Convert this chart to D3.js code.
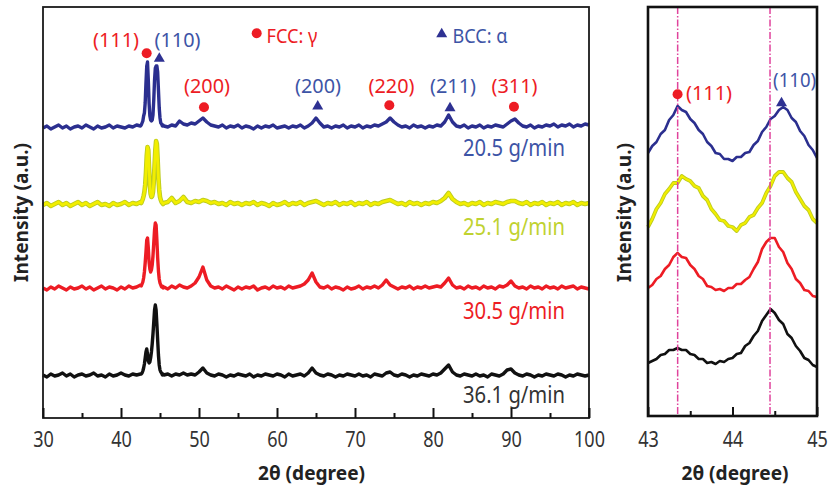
<!DOCTYPE html>
<html>
<head>
<meta charset="utf-8">
<script src="https://cdn.jsdelivr.net/npm/d3@7"></script>
<style>
  html, body { margin: 0; padding: 0; background: #fff; }
  svg { display: block; }
  text { font-family: "Noto Sans", "Open Sans", sans-serif; }
</style>
</head>
<body>
<svg id="chart" width="832" height="491"></svg>
<script>
// ---------------- DATA ----------------
// Left panel: full XRD scans, 2θ sample positions (degrees)
const twoTheta = [
  ...d3.range(30, 42.75, 0.5),      // 26 samples
  ...d3.range(42.6, 45.45, 0.1),    // 29 samples (main peaks)
  ...d3.range(45.5, 100.25, 0.5)    // 110 samples
];
// Intensities (a.u., stacked)
const intensity205 = [
  290,292,289,291,293,290,292,289,291,292,290,293,291,289,292,290,291,293,290,292,291,290,292,291,293,292,
  293,295,297,302,305,315,335,352,356,338,315,302,298,297,298,303,318,338,350,352,352,346,328,310,300,295,294,292,293,
  292,291,293,292,297,294,293,295,294,297,
  300,296,293,292,291,293,290,292,291,293,
  290,292,291,289,292,290,292,291,293,290,
  291,292,290,292,291,293,290,292,295,300,
  295,291,292,290,292,291,293,290,292,291,
  293,290,292,291,293,292,294,296,300,296,
  293,291,292,290,293,291,292,290,292,291,
  293,292,296,303,296,292,291,293,290,292,
  291,293,290,292,291,293,292,291,294,297,
  299,295,292,291,293,290,292,291,293,292,
  294,291,293,292,294,291,293,292,294,293
];
const intensity251 = [
  213,215,212,214,216,213,215,212,214,216,213,215,212,214,216,213,214,212,215,213,214,216,213,215,214,216,
  215,217,219,222,226,233,245,262,271,268,250,232,224,221,222,226,236,252,268,277,274,258,240,228,221,218,216,215,214,
  215,216,220,215,217,221,216,215,217,216,
  218,217,215,216,214,215,213,216,214,215,
  213,215,214,216,213,215,214,212,215,213,
  214,216,213,215,214,216,213,215,216,217,
  215,213,215,214,216,213,215,214,216,213,
  215,214,216,213,215,214,216,217,218,216,
  214,215,213,216,214,215,213,215,214,216,
  215,217,220,225,219,216,214,215,213,215,
  214,216,213,215,214,216,215,214,216,217,
  217,215,214,216,213,215,214,216,213,215,
  214,216,213,215,214,216,213,215,214,215
];
const intensity305 = [
  130,128,131,129,132,130,128,131,129,130,132,129,131,128,130,132,129,131,130,128,131,129,132,130,131,133,
  132,134,136,140,146,155,166,178,180,170,156,149,146,148,153,162,175,188,195,193,178,160,147,139,135,133,131,132,130,
  131,129,132,130,133,131,130,132,135,141,
  151,138,132,130,131,129,132,130,128,131,
  129,131,130,132,128,130,131,129,132,130,
  131,129,132,130,131,132,134,138,145,136,
  131,130,132,129,131,130,128,131,129,130,
  132,129,131,130,132,130,133,138,133,131,
  129,131,130,132,129,131,130,132,130,131,
  132,131,135,140,133,130,131,129,132,130,
  131,129,132,130,131,129,132,131,133,137,
  132,130,131,129,132,130,131,129,132,130,
  131,129,132,130,131,132,129,131,130,129
];
const intensity361 = [
  43,41,44,42,43,45,42,44,41,43,44,42,43,45,42,43,41,44,42,43,45,43,42,44,43,44,
  44,45,47,50,54,60,66,69,64,57,55,56,60,66,74,84,96,108,113,108,94,78,63,53,48,46,45,43,44,
  43,44,42,44,43,45,43,44,43,46,
  50,45,43,42,44,43,41,43,42,44,
  43,42,44,41,43,42,44,43,42,44,
  43,41,44,42,43,44,42,45,50,45,
  43,42,44,43,41,43,42,44,43,42,
  44,42,43,41,44,43,42,45,46,43,
  42,44,43,41,43,42,44,43,42,44,
  43,45,49,53,46,43,42,44,43,42,
  44,42,43,41,44,43,42,44,48,49,
  45,43,42,44,43,41,43,42,44,43,
  42,44,43,41,43,42,44,43,42,43
];

// Right panel: zoom 43–45°, step 0.05°
const twoThetaZoom = d3.range(43, 45.025, 0.05); // 41 samples
const zoom205 = [263,270,274,282,286,296,301,310,306,304,297,293,286,282,274,270,263,262,257,257,255,259,259,263,264,271,275,284,289,297,300,306,309,306,298,294,285,280,271,266,258];
const zoom251 = [189,197,207,213,222,227,233,233,240,237,235,230,228,220,216,207,202,196,195,190,189,185,191,193,199,201,208,213,223,230,240,244,244,238,234,224,217,210,206,197,193];
const zoom305 = [128,131,137,140,147,151,159,163,159,158,151,147,140,137,130,129,126,127,125,128,128,132,132,136,139,147,154,167,174,178,178,169,164,153,147,137,133,126,125,120,119];
const zoom361 = [53,55,57,61,62,66,66,68,66,66,62,61,57,57,53,54,52,55,54,57,58,62,63,70,73,80,85,95,101,107,103,96,92,82,78,70,65,58,56,51,49];

const feedRates = ["20.5 g/min", "25.1 g/min", "30.5 g/min", "36.1 g/min"];
const seriesColors = ["#2b2f8f", "#f2ee00", "#ed1c24", "#111111"];
const labelColors  = ["#3d54a6", "#bfd230", "#ed1c24", "#333333"];

const xTicksMain = [30, 40, 50, 60, 70, 80, 90, 100];
const xTicksMinor = [35, 45, 55, 65, 75, 85, 95];
const xTicksZoom = [43, 44, 45];
const xTicksZoomMinor = [43.5, 44.5];

// Peak annotations: phase, Miller index, 2θ of marker, marker height (a.u.)
const peakPhase  = ["FCC", "BCC", "FCC", "BCC", "FCC", "BCC", "FCC"];
const peakIndex  = ["(111)", "(110)", "(200)", "(200)", "(220)", "(211)", "(311)"];
const peakTheta  = [43.29, 44.91, 50.64, 65.22, 74.40, 82.18, 90.38];
const peakMarkY  = [364.7, 360.7, 310.7, 313, 312.7, 311.3, 311.3];
// label centers (2θ) and baseline height (a.u.)
const labelTheta = [39.36, 47.24, 51.03, 65.26, 74.68, 82.56, 90.45];
const labelY     = [371, 371, 325, 325, 325, 325, 325];

// Zoom panel reference lines and annotations
const refLines = [43.351, 44.444];
const zoomPeakPhase = ["FCC", "BCC"];
const zoomPeakIndex = ["(111)", "(110)"];
const zoomPeakTheta = [43.35, 44.58];
const zoomPeakMarkY = [321.7, 314.3];
const zoomLabelTheta = [43.45, 44.735];
const zoomLabelY = [316, 328.7];

// ---------------- DRAW ----------------
const svg = d3.select("#chart");
const red = "#ed1c24", navy = "#2e3192", blueText = "#3d54a6";

const L = { x0: 43, x1: 589, y0: 7, y1: 418 };
const R = { x0: 648, x1: 817, y0: 7, y1: 416 };

const xL = d3.scaleLinear().domain([30, 100]).range([L.x0, L.x1]);
const yL = d3.scaleLinear().domain([0, 411]).range([L.y1, L.y0]);
const xR = d3.scaleLinear().domain([43, 45]).range([R.x0, R.x1]);
const yR = d3.scaleLinear().domain([0, 409]).range([R.y1, R.y0]);

const leftSeries = [intensity205, intensity251, intensity305, intensity361];
const rightSeries = [zoom205, zoom251, zoom305, zoom361];

function drawTrace(g, xs, ys, xS, yS, i, w) {
  const pts = xs.map((t, k) => [t, ys[k]]);
  const line = d3.line().x(d => xS(d[0])).y(d => yS(d[1]));
  if (i === 1) {
    g.append("path").attr("d", line(pts)).attr("fill", "none")
      .attr("stroke", "#bccb1f").attr("stroke-width", w + 1.2).attr("stroke-linejoin", "round");
    g.append("path").attr("d", line(pts)).attr("fill", "none")
      .attr("stroke", seriesColors[1]).attr("stroke-width", w - 0.6).attr("stroke-linejoin", "round");
  } else {
    g.append("path").attr("d", line(pts)).attr("fill", "none")
      .attr("stroke", seriesColors[i]).attr("stroke-width", w).attr("stroke-linejoin", "round");
  }
}

const gL = svg.append("g");
leftSeries.forEach((ys, i) => drawTrace(gL, twoTheta, ys, xL, yL, i, 3.4));

const gR = svg.append("g");
rightSeries.forEach((ys, i) => drawTrace(gR, twoThetaZoom, ys, xR, yR, i, 2.6));

// reference dash-dot lines
gR.selectAll("line.ref").data(refLines).join("line")
  .attr("x1", d => xR(d)).attr("x2", d => xR(d))
  .attr("y1", R.y0).attr("y2", R.y1)
  .attr("stroke", "#e0439c").attr("stroke-width", 1.5)
  .attr("stroke-dasharray", "7,2,1.5,2");

function marker(g, phase, x, y) {
  if (phase === "FCC") {
    g.append("circle").attr("cx", x).attr("cy", y).attr("r", 5).attr("fill", red);
  } else {
    g.append("path").attr("d", `M${x},${y - 5} L${x + 5.5},${y + 4.5} L${x - 5.5},${y + 4.5} Z`).attr("fill", navy);
  }
}
function label(g, s, x, y, color, size, len, anchor, weight) {
  const t = g.append("text").attr("x", x).attr("y", y).text(s)
    .attr("fill", color).attr("font-size", size)
    .attr("text-anchor", anchor || "middle");
  if (weight) t.attr("font-weight", weight);
  if (len) t.attr("textLength", len).attr("lengthAdjust", "spacingAndGlyphs");
  return t;
}

peakPhase.forEach((p, i) => {
  marker(gL, p, xL(peakTheta[i]), yL(peakMarkY[i]));
  label(gL, peakIndex[i], xL(labelTheta[i]), yL(labelY[i]), p === "FCC" ? red : blueText, 20, 46);
});
zoomPeakPhase.forEach((p, i) => {
  marker(gR, p, xR(zoomPeakTheta[i]), yR(zoomPeakMarkY[i]));
  label(gR, zoomPeakIndex[i], xR(zoomLabelTheta[i]), yR(zoomLabelY[i]), p === "FCC" ? red : blueText, 20,
        i === 0 ? 46 : 43, i === 0 ? "start" : "middle");
});

// legend
marker(svg, "FCC", 256.7, 33.3);
label(svg, "FCC: γ", 266.5, 43, red, 20, 51, "start");
marker(svg, "BCC", 441.7, 32.7);
label(svg, "BCC: α", 452.5, 43.3, blueText, 20, 55, "start");

// feed rate labels
const feedBaselines = [156, 235, 319, 403];
feedRates.forEach((s, i) => label(svg, s, 463, feedBaselines[i], labelColors[i], 24, 102, "start"));

// frames
svg.append("rect").attr("x", L.x0).attr("y", L.y0).attr("width", L.x1 - L.x0).attr("height", L.y1 - L.y0)
  .attr("fill", "none").attr("stroke", "#1a1a1a").attr("stroke-width", 1.8);
svg.append("rect").attr("x", R.x0).attr("y", R.y0).attr("width", R.x1 - R.x0).attr("height", R.y1 - R.y0)
  .attr("fill", "none").attr("stroke", "#111").attr("stroke-width", 2.6);

function styleAxis(g) {
  g.select(".domain").remove();
  g.selectAll(".tick line").attr("stroke", "#111").attr("stroke-width", 2);
  g.selectAll(".tick text").attr("fill", "#333").attr("font-size", 21)
    .attr("font-family", "'Noto Sans', 'Open Sans', sans-serif")
    .attr("transform", "scale(0.86,1)");
}
const axL = svg.append("g").attr("transform", `translate(0,${L.y1})`)
  .call(d3.axisBottom(xL).tickValues(xTicksMain).tickSize(-10).tickPadding(14).tickFormat(d3.format("d")));
styleAxis(axL);
const axLm = svg.append("g").attr("transform", `translate(0,${L.y1})`)
  .call(d3.axisBottom(xL).tickValues(xTicksMinor).tickSize(-5).tickFormat(""));
styleAxis(axLm);
const axR = svg.append("g").attr("transform", `translate(0,${R.y1})`)
  .call(d3.axisBottom(xR).tickValues(xTicksZoom).tickSize(-9).tickPadding(16).tickFormat(d3.format("d")));
styleAxis(axR);
const axRm = svg.append("g").attr("transform", `translate(0,${R.y1})`)
  .call(d3.axisBottom(xR).tickValues(xTicksZoomMinor).tickSize(-5).tickFormat(""));
styleAxis(axRm);

// axis titles
label(svg, "2θ (degree)", 311.5, 480, "#222", 20, 107, "middle", "bold");
label(svg, "2θ (degree)", 735, 480, "#222", 20, 107, "middle", "bold");
label(svg, "Intensity (a.u.)", 0, 0, "#222", 20, 139, "middle", "bold")
  .attr("transform", "translate(28,212.5) rotate(-90)");
label(svg, "Intensity (a.u.)", 0, 0, "#222", 20, 139, "middle", "bold")
  .attr("transform", "translate(631,212.5) rotate(-90)");
</script>
</body>
</html>
